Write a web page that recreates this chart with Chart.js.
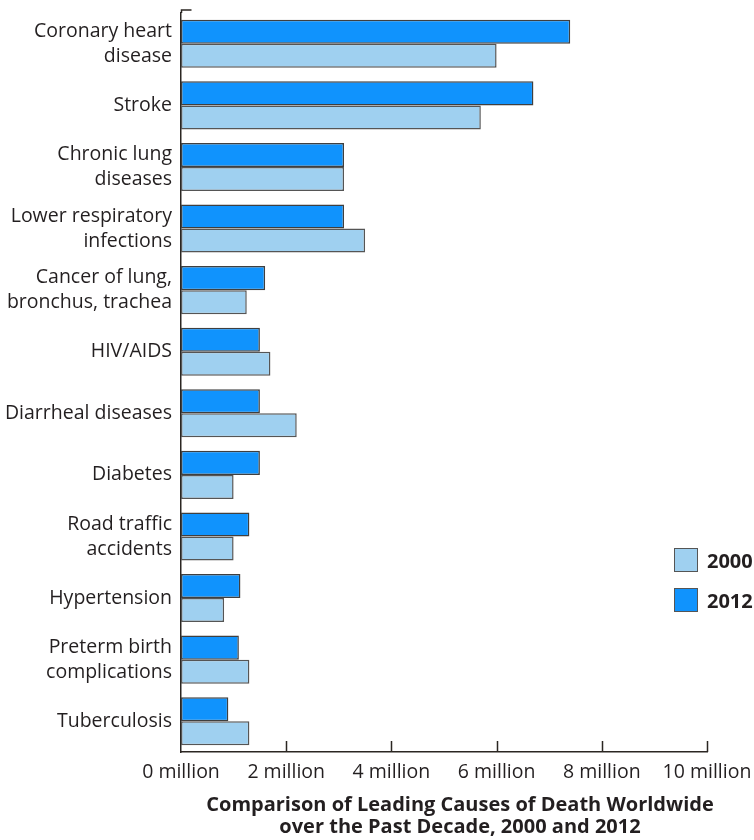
<!DOCTYPE html>
<html>
<head>
<meta charset="utf-8">
<script src="https://cdn.jsdelivr.net/npm/chart.js@4"></script>
<style>
  body { margin: 0; background: #fff; }
  #wrap { position: relative; width: 754px; height: 840px; overflow: hidden; }
  #legend { position: absolute; left: 674px; top: 547px; font-family: "Open Sans", sans-serif; font-weight: bold; font-size: 20px; color: #231f20; }
  .row { display: flex; align-items: center; height: 26px; margin-bottom: 14px; white-space: nowrap; }
  .sw { width: 22px; height: 22px; border: 1.5px solid #555; margin-right: 9px; flex: none; }
  #title { position: absolute; left: 160px; width: 600px; top: 793px; text-align: center; font-family: "Open Sans", sans-serif; font-weight: bold; font-size: 20px; line-height: 22px; color: #231f20; }
</style>
</head>
<body>
<div id="wrap">
  <canvas id="deathChart" width="754" height="840"></canvas>
  <div id="legend">
    <div class="row"><div class="sw" style="background:#9fd0f0"></div>2000</div>
    <div class="row"><div class="sw" style="background:#1093fd"></div>2012</div>
  </div>
  <div id="title">Comparison of Leading Causes of Death Worldwide<br>over the Past Decade, 2000 and 2012</div>
</div>
<script>
// Causes of death, top to bottom
const causes = [
  ['Coronary heart', 'disease'],
  'Stroke',
  ['Chronic lung', 'diseases'],
  ['Lower respiratory', 'infections'],
  ['Cancer of lung,', 'bronchus, trachea'],
  'HIV/AIDS',
  'Diarrheal diseases',
  'Diabetes',
  ['Road traffic', 'accidents'],
  'Hypertension',
  ['Preterm birth', 'complications'],
  'Tuberculosis'
];
// deaths in millions
const deaths2012 = [7.4, 6.7, 3.1, 3.1, 1.6, 1.5, 1.5, 1.5, 1.3, 1.13, 1.1, 0.9];
const deaths2000 = [6.0, 5.7, 3.1, 3.5, 1.25, 1.7, 2.2, 1.0, 1.0, 0.82, 1.3, 1.3];
const xTicks = [0, 2, 4, 6, 8, 10];

const axisColor = '#2b2622';
const textColor = '#231f20';

// inward tick marks on x axis + little cap at top of y axis
const axisMarks = {
  id: 'axisMarks',
  afterDraw(chart) {
    const ctx = chart.ctx;
    const x = chart.scales.x;
    const area = chart.chartArea;
    ctx.save();
    ctx.strokeStyle = axisColor;
    ctx.lineWidth = 1.5;
    ctx.beginPath();
    xTicks.forEach(v => {
      if (v === 0) return;
      const px = Math.round(x.getPixelForValue(v)) + 0.5;
      ctx.moveTo(px, area.bottom);
      ctx.lineTo(px, area.bottom - 11);
    });
    const left = Math.round(x.getPixelForValue(0)) + 0.5;
    ctx.moveTo(left + 10, area.top - 3);
    ctx.lineTo(left, area.top - 3);
    ctx.lineTo(left, area.top);
    ctx.stroke();
    ctx.restore();
  }
};

const ctx = document.getElementById('deathChart').getContext('2d');
window.myChart = new Chart(ctx, {
  type: 'bar',
  data: {
    labels: causes,
    datasets: [{
      label: '2012',
      data: deaths2012,
      backgroundColor: '#1093fd',
      borderColor: '#3f3f3f',
      borderWidth: 1.5,
      borderSkipped: false
    }, {
      label: '2000',
      data: deaths2000,
      backgroundColor: '#9fd0f0',
      borderColor: '#555555',
      borderWidth: 1.5,
      borderSkipped: false
    }]
  },
  options: {
    indexAxis: 'y',
    responsive: false,
    animation: false,
    layout: { padding: { top: 13, right: 47, left: 0, bottom: 48 } },
    datasets: { bar: { categoryPercentage: 0.78, barPercentage: 1.0 } },
    plugins: {
      legend: { display: false },
      tooltip: { enabled: false },
      title: { display: false }
    },
    scales: {
      x: {
        min: 0,
        max: 10,
        afterBuildTicks(scale) { scale.ticks = xTicks.map(v => ({ value: v })); },
        afterFit(scale) { scale.height = 40; scale.paddingLeft = 0; scale.paddingRight = 0; },
        grid: { display: false, drawTicks: false },
        border: { display: true, color: axisColor, width: 1.5 },
        ticks: {
          color: textColor,
          padding: 9,
          maxRotation: 0,
          font: { family: 'Open Sans', size: 19.5 },
          callback: v => v + ' million'
        }
      },
      y: {
        afterFit(scale) { scale.width = 181; scale.paddingTop = 0; scale.paddingBottom = 0; },
        grid: { display: false, drawTicks: false },
        border: { display: true, color: axisColor, width: 1.5 },
        ticks: {
          color: textColor,
          padding: 9,
          font: { family: 'Open Sans', size: 19.5, lineHeight: 1.28 }
        }
      }
    }
  },
  plugins: [axisMarks]
});
</script>
</body>
</html>
